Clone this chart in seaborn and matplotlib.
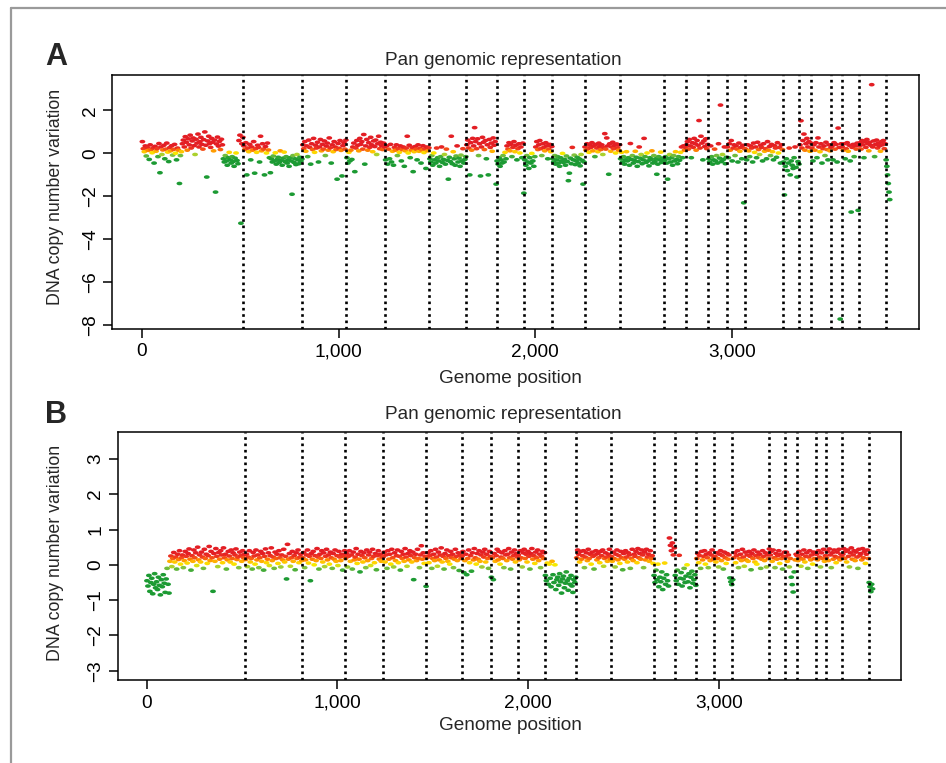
import numpy as np
import pandas as pd
import matplotlib
matplotlib.use("Agg")
import matplotlib.pyplot as plt
import seaborn as sns
from matplotlib.colors import LinearSegmentedColormap, Normalize
from matplotlib.lines import Line2D
from matplotlib.path import Path

# Chromosome boundaries along the probe index (1..22, X, trailing probes)
chrom_edges = [0, 516, 816, 1040, 1237, 1462, 1650, 1804, 1945, 2087, 2251, 2432,
               2656, 2767, 2880, 2975, 3068, 3260, 3344, 3405, 3507, 3559, 3645,
               3783, 3805]

# Copy number per probe (x100), one list per chromosome -- sample A
cn_a = [
    [55, 22, 8, 35, -12, 28, 14, -28, 40, 18, 3, 26, -45, 33, 10, 22, -15, 46, -90, 30,
     -5, 16, 38, -25, 20, 48, 6, -38, 27, 12, 36, -8, 19, 42, 1, -30, 25, 15, -140, -10, 8,
     45, 62, 30, 78, 52, 15, 68, 40, 85, 25, 58, 72, 36, -5, 66, 48, 90, 30, 55, 75,
     42, 20, 64, 100, 38, -110, 58, 80, 46, 28, 70, 52, 12, 62, -180, 44, 76, 34, 56, 18,
     66, 40, -25, -40, -10, -35, -55, -20, 5, -30, -45, -15, -38, -60, -22, 2, -33, -48,
     60, 85, -325, 45, 75],
    [35, 18, 50, -100, 25, 8, 42, -30, 30, 15, 55, -92, 22, 5, 38, 28, -40, 80, 12, 45,
     20, -100, 32, 2, 48, 16, -20, -90, -25, -40, -12, -35, 3, -50, -28, -18, -42, 12,
     -32, -55, -22, 6, -38, -15, -45, -30, -60, -20, -35, -190, -10, -42, -25, -52, -5,
     -30, -48, -18, -36, -26],
    [40, 22, 55, 10, 35, -15, 62, 28, -50, 45, 18, 70, 5, 38, 25, 52, -40, 30, 65, 12,
     42, 20, 58, -10, 34, 48, 15, 72, 26, -45, 40, 8, 55, 30, 18, -120, 46, 24, 60, 14,
     -105, 36, 50, 20, 62],
    [-20, -45, 5, -35, 15, -28, 30, 48, -85, 25, 60, 38, 12, 70, 42, 55, 20, 88, -50, 35,
     65, 15, 50, 28, 75, 40, 8, 58, 32, 62, -5, 45, 80, 22, 52, 36, 18, 48, 30],
    [-30, 35, -50, 20, -25, 42, -40, 10, -55, 28, 15, 40, -10, 22, 5, 35, -35, 18, 30, -60,
     12, 25, 80, 2, 38, -20, 15, 28, -85, 8, 32, 20, -30, 40, 10, 24, -45, 16, 36, 4,
     22, -70, 30, 12, 26],
    [-25, -40, -10, -55, 2, -30, -45, 25, -20, -35, -60, -15, 30, -42, -28, -5, -50, 20,
     -32, -120, -18, -38, 80, -48, 8, -25, -55, -12, 35, -40, -22, -60, -8, -35, 22, -45,
     -28, -15],
    [40, 62, 25, -100, 50, 15, 70, 35, 120, 55, 22, 68, -10, 45, -105, 30, 75, 52, 18, 60,
     -25, 40, -100, 65, 28, 48, 10, 72, 38, 55, -143],
    [-35, -50, -20, -60, -30, -45, -10, -40, 5, -25, 35, 20, 50, 12, 42, -15, 28, 55, 8,
     38, -30, 22, 45, 2, 30, -20, 48, -185],
    [-30, -55, -10, -40, -70, -20, -45, 0, -35, -60, -15, 30, 55, 18, 40, 60, 22, -10, 45,
     28, 12, 50, 35, -25, 20, 42, 8, 32],
    [-25, -40, -10, -50, -30, -15, -45, -60, -20, -35, 0, -42, -28, -55, -12, -38, -127,
     -92, -22, -48, 28, -30, -8, -52, -35, -18, -45, -25, -58, -5, -32, -143, -40],
    [30, 15, 45, 22, 5, 38, 28, 50, 12, 35, -15, 42, 25, 8, 48, 32, 18, 40, -5, 28, 92,
     20, 72, 35, -97, 45, 10, 30, 52, 22, 38, 2, 44, 26, 15, 40],
    [-25, 5, -40, -15, -50, -30, 8, -35, -20, -55, 46, -28, -10, -45, -32, 10, -18, -60,
     -38, 30, -22, -5, -48, -30, 70, -15, -42, 2, -35, -58, -20, -28, 12, -45, -10, -38,
     -25, -97, -50, -15, -30, 6, -42, -22, -35],
    [-30, -15, -45, -120, -25, -5, -40, -20, -55, -10, -35, 8, -28, -48, -15, -32, 5, 30,
     -20, 35, 15, 28],
    [40, 55, 20, 65, 35, -20, 50, 28, 70, 45, 15, 60, 38, 153, 25, 80, 48, -30, 58, 32,
     68, 22, 42],
    [-25, -40, 35, -15, -50, -30, 20, -35, -10, -45, 45, -22, 225, -38, -5, -28, 30, -48,
     -18],
    [30, -20, 45, 15, 60, -35, 25, 40, -10, 35, 20, -40, 48, 10, 28, -25, 38, -230, 22],
    [20, -30, 40, 12, -15, 35, 25, -40, 48, 5, 30, -20, 52, 18, -5, 38, 28, -35, 45, 10,
     22, -25, 55, 15, 32, -10, 42, 8, -30, 36, 25, -18, 50, 2, 28, -45, 40, 18],
    [-40, -193, -60, -25, -80, -45, 25, -100, -35, -55, -70, -20, 30, -65, -110, -38, -50],
    [40, 152, 25, 60, 90, 15, 45, 70, 30, 55, 10, 48],
    [25, -35, 40, 15, 50, -20, 72, 30, 8, 45, -45, 22, 35, -10, 52, 18, -30, 40, 12, 28],
    [35, -30, 50, 20, 42, -40, 118, 28, -771, 45],
    [30, 15, 45, -25, 22, 50, 10, 38, -35, -273, 28, 42, -15, 35, 20, 48, -265],
    [35, 50, 20, 60, 40, -20, 55, 28, 65, 45, 12, 52, 38, 320, 30, 58, -15, 42, 62, 25,
     48, 35, 10, 55, 40, 60, 22, 45],
    [-30, -60, -100, -140, -180, -215],
]

# Copy number per probe (x100), one list per chromosome -- sample B
cn_b = [
    [-45, -60, -30, -75, -50, -38, -82, -55, -25, -65, -48, -70, -35, -58, -85, -42, -62,
     -28, -52, -78, -40, -10, -55, -80,
     10, 25, -5, 18, 35, 8, 22, -12, 30, 15, 40, 2, 20, 28, -8, 12, 38, 24, 5, 32,
     45, 16, -15, 26, 10, 42, 20, 34, -2, 50, 14, 28, 8, 36, 22, -10, 44, 18, 30, 4,
     26, 52, 12, 38, 20, -75, 32, 10, 46, 24, -5, 35, 16, 40, 28, 6, 48, 20, 30, -12,
     14, 38, 25, 8, 42, 18, 34, 2, 28, 45, 15, 22, -8, 36, 26, 10, 40, 20, 30],
    [15, 30, -5, 22, 40, 8, 18, -12, 35, 25, 2, 42, 14, 28, -8, 20, 38, 10, 32, -15,
     24, 45, 6, 16, 34, -2, 26, 48, 12, 22, -10, 36, 18, 30, 4, 40, 20, -6, 28, 14,
     44, 8, 24, -40, 58, 16, 32, -4, 20, 38, 10, 26, -14, 34, 18, 42, 6, 22, 30, 12],
    [20, 35, -8, 14, 28, 42, 5, 24, -45, 32, 16, 38, 0, 26, 12, 46, 22, -12, 30, 18,
     40, 8, 34, -5, 24, 44, 14, 28, 2, 36, 20, -10, 32, 16, 42, 10, 26, -2, 38, 22,
     12, 30, -15, 24, 40],
    [18, 32, -6, 24, 40, 10, 28, -12, 36, 14, 22, 46, 4, 30, 16, -20, 38, 26, 8, 34,
     20, -8, 42, 12, 28, 36, -2, 18, 44, 24, 6, 32, -14, 26, 40, 16, 30, 10, 22],
    [22, 36, 8, 28, -10, 40, 16, 30, 2, 44, 20, -6, 34, 12, 26, 42, 6, 24, -15, 38,
     18, 30, 10, 46, 22, -4, 32, 14, 40, 26, 8, 36, -42, 20, 30, 12, 44, 18, -8, 28,
     54, 16, 34, 4, 24],
    [-61, 20, 34, 6, 26, 40, -10, 18, 30, 12, 44, 22, -4, 36, 14, 28, 48, 8, 24, -12,
     32, 18, 42, 10, 26, 2, 38, 20, 30, -8, 16, 44, 24, 12, 34, -16, 28, 18],
    [24, 38, -22, 12, 30, -28, 18, 42, 6, 26, -18, 34, 14, 46, 20, 2, 32, 16, 40, 10,
     28, -6, 36, 22, 44, 8, 30, 18, -10, 38, 24],
    [-35, 20, -42, 32, 10, 26, 44, 14, 38, 2, 22, 34, 18, -8, 40, 28, 12, 30, 46, 20,
     -12, 36, 16, 26, 42, 8, 32, 22],
    [28, 14, 40, 20, -6, 34, 44, 18, 30, 8, 38, 24, -12, 32, 46, 16, 26, 4, 36, 20,
     42, 12, 30, -8, 24, 38, 18, 34],
    [-30, -45, 5, -55, 2, -38, -62, 10, -28, -50, 0, -70, -42, -35, -58, -25, -48, -80,
     -40, -32, -65, -52, -20, -45, -72, -38, -55, -30, -60, -78, -42, -50, -35],
    [20, 42, 30, 8, 38, 16, 26, 40, -8, 22, 34, 12, 44, 18, 30, 2, 36, 24, -12, 28,
     40, 14, 32, 20, 6, 38, 26, 42, -4, 18, 34, 22, 10, 30, 44, 16],
    [24, 10, 36, 18, -6, 30, 42, 14, 26, 4, 38, 20, -14, 32, 16, 40, 22, 8, 34, 28,
     -10, 18, 44, 12, 30, 24, 38, 6, 46, 20, 32, 16, 42, 28, -8, 36, 14, 44, 22, 30,
     10, 40, 18, 26, 4],
    [-30, -50, -15, -42, 2, -62, -35, -48, -20, -70, -38, 5, -55, -28, -45, -60,
     76, 55, 40, 62, 28, 48],
    [-30, -45, -15, -55, 27, -38, -22, -60, -40, -10, -50, -32, 0, -48, -25, -65, -35,
     -18, -52, -42, -28, -58],
    [18, 32, 6, 26, -10, 38, 14, 24, 40, 2, 30, 20, -8, 34, 12, 28, 42, 16, 22],
    [24, 8, 34, 18, -6, 30, 40, 12, 26, -12, 36, 20, 4, 32, 16, 28, -37, -48, -56],
    [-42, 20, 34, 6, 26, 40, -8, 18, 30, 12, 44, 22, -4, 36, 14, 28, 10, 38, 24, -14,
     32, 18, 42, 8, 26, 2, 36, 20, 30, -10, 16, 40, 24, 12, 34, -6, 28, 18],
    [45, 28, 38, 10, 42, 20, -8, 32, 16, 26, 40, 4, 30, 18, -12, 24, 36],
    [22, 36, 10, 28, -6, 18, -35, -56, -77, -20, 14, 30],
    [26, 12, 38, 20, -4, 30, 16, 42, 8, 24, 34, -10, 22, 40, 14, 28, 2, 36, 18, 32],
    [30, 14, 40, 22, -6, 34, 18, 44, 10, 26],
    [20, 38, 12, 45, 28, -8, 34, 16, 42, 24, 6, 36, 20, 44, 14, 30, 22],
    [30, 46, 18, 38, 8, 42, 24, -6, 34, 48, 16, 28, 40, 12, 36, 22, -10, 44, 26, 32,
     14, 46, 20, 38, 4, 30, 42, 18],
    [-50, -62, -76, -55, -68],
]

panel_letters = ["A", "B"]
panel_title = "Pan genomic representation"
x_label = "Genome position"
y_label = "DNA copy number variation"
x_ticks = [0, 1000, 2000, 3000]
x_tick_labels = ["0", "1,000", "2,000", "3,000"]
y_ticks_a = [-8, -6, -4, -2, 0, 2]
y_ticks_b = [-3, -2, -1, 0, 1, 2, 3]

# colour ramp: green (loss) -> yellow (neutral) -> red (gain)
ramp_values = [-0.30, -0.18, -0.07, 0.00, 0.07, 0.14, 0.22, 0.32]
ramp_colors = ["#1c9a33", "#2aa236", "#8cc63f", "#f6ea00", "#ffd000", "#ff8800",
               "#f03a1e", "#e31e24"]


def to_frame(values):
    rows = []
    for k, vals in enumerate(values):
        lo, hi = chrom_edges[k], chrom_edges[k + 1]
        step = (hi - lo) / len(vals)
        pos = lo + step * (np.arange(len(vals)) + 0.5)
        for p, v in zip(pos, vals):
            rows.append((p, v / 100.0))
    return pd.DataFrame(rows, columns=["pos", "cn"])


sns.set_style("white")
plt.rcParams["font.family"] = ["Liberation Sans", "DejaVu Sans"]

W, H = 946, 763
fig = plt.figure(figsize=(W / 100, H / 100), dpi=100)


def px_box(left, top, right, bottom):
    return [left / W, 1 - bottom / H, (right - left) / W, (bottom - top) / H]


ax_a = fig.add_axes(px_box(112, 75, 919, 328.5))
ax_b = fig.add_axes(px_box(117.5, 432, 901, 680))

span = ramp_values[-1] - ramp_values[0]
cmap = LinearSegmentedColormap.from_list(
    "cn", [((v - ramp_values[0]) / span, c) for v, c in zip(ramp_values, ramp_colors)])
norm = Normalize(vmin=ramp_values[0], vmax=ramp_values[-1], clip=True)

t = np.linspace(0, 2 * np.pi, 17)
dash_marker = Path(np.column_stack([np.cos(t), 0.62 * np.sin(t)]), closed=True)

panels = [
    (ax_a, cn_a, y_ticks_a, (-8.15, 3.65), 197),
    (ax_b, cn_b, y_ticks_b, (-3.26, 3.76), 553),
]

for ax, values, yt, ylim, _ in panels:
    df = to_frame(values)
    sns.scatterplot(data=df, x="pos", y="cn", hue="cn", palette=cmap, hue_norm=norm,
                    marker=dash_marker, s=18, linewidth=0, legend=False, ax=ax,
                    zorder=2)
    for b in chrom_edges[1:-1]:
        ax.axvline(b, color="black", lw=1.9, linestyle=(0, (1, 1.4)), zorder=3)
    ax.set_xlim(-152, 3952)
    ax.set_ylim(*ylim)
    ax.set_xticks(x_ticks)
    ax.set_xticklabels(x_tick_labels)
    ax.set_yticks(yt)
    ax.set_yticklabels([f"{v}".replace("-", "\u2212") for v in yt])
    for lab in ax.get_yticklabels():
        lab.set_rotation(90)
        lab.set_va("center")
    ax.tick_params(axis="both", which="major", bottom=True, left=True,
                   top=False, right=False, direction="out", length=6.5, width=1.1,
                   labelsize=13.7, color="black", labelcolor="black")
    ax.tick_params(axis="x", pad=4)
    ax.tick_params(axis="y", pad=3)
    for sp in ax.spines.values():
        sp.set_visible(True)
        sp.set_color("black")
        sp.set_linewidth(1.1)
    ax.set_xlabel("")
    ax.set_ylabel("")

# titles, axis labels and panel letters
for (ax, values, yt, ylim, yl_y), letter, letter_y, title_y, xl_y in zip(
        panels, panel_letters, [65, 423], [65, 419], [383, 730]):
    fig.text(45 / W, 1 - letter_y / H, letter, fontsize=22, fontweight="bold",
             ha="left", va="baseline")
    fig.text(503 / W, 1 - title_y / H, panel_title, fontsize=13.7,
             ha="center", va="baseline")
    ax.set_xlabel(x_label, fontsize=13.7)
    ax.xaxis.set_label_coords(510 / W, 1 - xl_y / H, transform=fig.transFigure)
    ax.xaxis.label.set_va("baseline")
    ax.set_ylabel(y_label, fontsize=12.8)
    ax.yaxis.set_label_coords(55 / W, 1 - yl_y / H, transform=fig.transFigure)
    ax.yaxis.label.set_va("center")

# outer frame (top and left edges)
fig.add_artist(Line2D([11 / W, 1], [1 - 8 / H, 1 - 8 / H], transform=fig.transFigure,
                      color="#9a9a9a", lw=1.6))
fig.add_artist(Line2D([11 / W, 11 / W], [0, 1 - 8 / H], transform=fig.transFigure,
                      color="#9a9a9a", lw=1.6))

fig.savefig("out.png", dpi=100)
